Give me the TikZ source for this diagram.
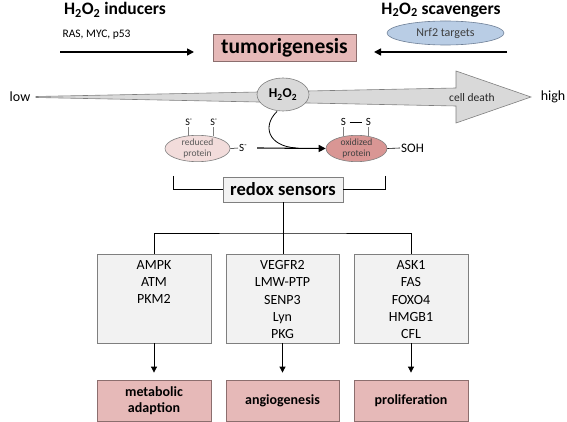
\documentclass[tikz,border=0pt]{standalone}
\usepackage{fontspec}
\setmainfont{Carlito}
\usetikzlibrary{arrows.meta,calc,shapes.geometric}
\definecolor{pinkfill}{HTML}{E6B9B8}
\definecolor{pinkline}{HTML}{8C6E6E}
\definecolor{boxfill}{HTML}{F2F2F2}
\definecolor{boxline}{HTML}{7F7F7F}
\definecolor{redfill}{HTML}{F2DCDB}
\definecolor{oxfill}{HTML}{D99694}
\definecolor{bluefill}{HTML}{B9CDE5}
\definecolor{blueline}{HTML}{6E7F96}
\definecolor{wedgefill}{HTML}{D9D9D9}
\definecolor{smalltext}{HTML}{595959}
\newcommand{\sub}[1]{\textsubscript{#1}}
\tikzset{
  arr/.style={-{Triangle[length=7pt,width=7pt]}, line width=1.6pt},
  darr/.style={-{Triangle[length=6pt,width=6pt]}, line width=0.8pt},
  pinkbox/.style={draw=pinkline, fill=pinkfill, line width=0.8pt, align=center, font=\fontsize{14}{17}\selectfont\bfseries},
  graybox/.style={draw=boxline, fill=boxfill, line width=0.8pt},
  listtext/.style={font=\fontsize{14}{17.2}\selectfont, align=center, anchor=north},
  conn/.style={line width=0.8pt, draw=black},
  title/.style={font=\fontsize{17.5}{20}\selectfont\bfseries},
  prot/.style={ellipse, draw=boxline, line width=0.6pt, minimum width=65pt, minimum height=25pt, inner sep=0pt, align=center, text=smalltext, font=\fontsize{9.5}{10.5}\selectfont},
}
\begin{document}
\begin{tikzpicture}[x=1pt,y=-1pt]
\useasboundingbox (0,0) rectangle (567,422);
% titles
\node[title] (ind) at (115,10) {H\sub{2}O\sub{2} inducers};
\node[font=\fontsize{11.5}{13}\selectfont, anchor=west] (ras) at (59,35) {RAS, MYC, p53};
\node[title] (scav) at (441,10) {H\sub{2}O\sub{2} scavengers};
\node[ellipse, draw=blueline, fill=bluefill, line width=0.6pt, minimum width=117pt, minimum height=24pt, inner sep=0pt, font=\fontsize{12}{14}\selectfont, text=smalltext!70!black] (nrf) at (445.5,33) {Nrf2 targets};
% tumorigenesis
\node[pinkbox, minimum width=143pt, minimum height=27pt, inner sep=0pt, font=\fontsize{21.5}{24}\selectfont\bfseries] (tum) at (284.5,47.5) {tumorigenesis};
\coordinate (lstart) at (60,52);
\coordinate (lend) at (194,52);
\coordinate (rstart) at (507,52);
\coordinate (rend) at (374,52);
\draw[arr] (lstart) -- (lend);
\draw[arr] (rstart) -- (rend);
% wedge arrow
\draw[draw=boxline, fill=wedgefill, line width=0.6pt, line join=miter]
  (36,96.5) -- (456,88) -- (456,71) -- (531,97) -- (456,123) -- (456,106) -- (36,97.5) -- cycle;
\node[font=\fontsize{14}{16}\selectfont] (low) at (20,97) {low};
\node[font=\fontsize{14}{16}\selectfont] (high) at (553,97) {high};
\node[font=\fontsize{11.5}{13}\selectfont, text=black!85] (death) at (472,98) {cell death};
\node[ellipse, draw=boxline, fill=wedgefill, line width=0.6pt, minimum width=52pt, minimum height=33pt, inner sep=0pt, font=\fontsize{13.5}{14}\selectfont\bfseries] (h2o2) at (283,94.5) {H\sub{2}O\sub{2}};
% proteins
\node[prot, fill=redfill] (red) at (197.5,148.5) {reduced\\protein};
\node[prot, fill=oxfill, minimum width=61pt, text=black!75] (ox) at (356.5,148.5) {oxidized\\protein};
\node[font=\fontsize{10}{11}\selectfont] (s1) at (189,122) {S\textsuperscript{-}};
\node[font=\fontsize{10}{11}\selectfont] (s2) at (214,122) {S\textsuperscript{-}};
\draw[line width=0.5pt, draw=boxline] (188,127.5) -- (188,136.5);
\draw[line width=0.5pt, draw=boxline] (213,127.5) -- (213,136.5);
\node[font=\fontsize{11}{12}\selectfont, anchor=west, inner sep=1pt] (s3) at (238,148) {S\textsuperscript{-}};
\draw[line width=0.5pt] (red.east) -- (s3.west);
\node[font=\fontsize{11}{12}\selectfont] (o1) at (343.5,122) {S};
\node[font=\fontsize{11}{12}\selectfont] (o2) at (368.5,122) {S};
\draw[line width=0.6pt] (o1.east) -- (o2.west);
\draw[line width=0.5pt, draw=boxline] (343,127.5) -- (343,136.5);
\draw[line width=0.5pt, draw=boxline] (368,127.5) -- (368,136.5);
\node[font=\fontsize{13}{14}\selectfont, anchor=west, inner sep=1pt] (soh) at (400,148) {SOH};
\draw[line width=0.6pt] (ox.east) -- (soh.west);
\coordinate (rxstart) at (257,148);
\draw[arr, line width=1.1pt] (rxstart) -- (ox.west);
\coordinate (cstart) at (277,111.5);
\coordinate (cend) at (296,148);
\draw[line width=0.8pt] (cstart) .. controls (262,126) and (268,146) .. (cend);
% redox sensors
\node[graybox, minimum width=120pt, minimum height=25pt, inner sep=0pt, font=\fontsize{18.5}{20}\selectfont\bfseries] (rs) at (283,189.5) {redox sensors};
\coordinate (bl) at (173,176);
\coordinate (br) at (385,176);
\draw[conn] (bl) |- (rs.west);
\draw[conn] (br) |- (rs.east);
% list boxes
\node[graybox, minimum width=114pt, minimum height=89pt, inner sep=0pt] (b1) at (154,298.5) {};
\node[graybox, minimum width=113pt, minimum height=89pt, inner sep=0pt] (b2) at (282.5,298.5) {};
\node[graybox, minimum width=114pt, minimum height=89pt, inner sep=0pt] (b3) at (411,298.5) {};
\node[listtext] (t1) at (154,257) {AMPK\\ATM\\PKM2};
\node[listtext] (t2) at (282.5,257) {VEGFR2\\LMW-PTP\\SENP3\\Lyn\\PKG};
\node[listtext] (t3) at (411,257) {ASK1\\FAS\\FOXO4\\HMGB1\\CFL};
\coordinate (junc) at (283,233);
\draw[conn] (rs.south -| junc) -- (junc);
\draw[conn] (b1.north) |- (junc) -| (b3.north);
\draw[conn] (junc) -- (b2.north -| junc);
% outcome boxes
\node[pinkbox, minimum width=114pt, minimum height=41pt, inner sep=0pt] (p1) at (154,400.5) {metabolic\\[-1pt]adaption};
\node[pinkbox, minimum width=113pt, minimum height=41pt, inner sep=0pt] (p2) at (282.5,400.5) {angiogenesis};
\node[pinkbox, minimum width=114pt, minimum height=41pt, inner sep=0pt] (p3) at (411,400.5) {proliferation};
\draw[darr] (b1.south) -- ($(p1.north)+(0,-7)$);
\draw[darr] (b2.south) -- ($(p2.north)+(0,-7)$);
\draw[darr] (b3.south) -- ($(p3.north)+(0,-7)$);
\end{tikzpicture}
\end{document}
